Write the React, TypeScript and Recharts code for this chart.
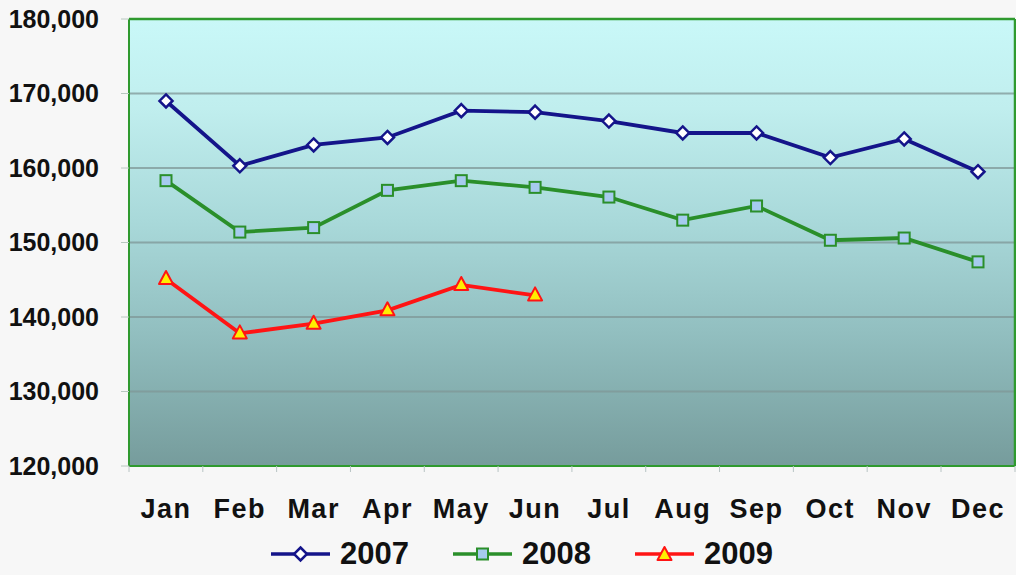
import { LineChart, Line, XAxis, YAxis, CartesianGrid, Legend } from 'recharts';

const months = ['Jan', 'Feb', 'Mar', 'Apr', 'May', 'Jun', 'Jul', 'Aug', 'Sep', 'Oct', 'Nov', 'Dec'];
const sales2007 = [169000, 160300, 163100, 164100, 167700, 167500, 166300, 164700, 164700, 161400, 163900, 159500];
const sales2008 = [158300, 151400, 152000, 157000, 158300, 157400, 156100, 153000, 154900, 150300, 150600, 147400];
const sales2009 = [145100, 137800, 139100, 140900, 144300, 142900];
const yTicks = [120000, 130000, 140000, 150000, 160000, 170000, 180000];

const FONT = '"Liberation Sans", Arial, sans-serif';
const NAVY = '#14148a';
const GREEN = '#2a8f2a';
const RED = '#ff1414';
const BORDER = '#2f9a2f';
const HALF_BAND = 37;

const data = months.map((m, i) => ({
  month: m,
  y2007: sales2007[i],
  y2008: sales2008[i],
  y2009: i < sales2009.length ? sales2009[i] : null,
}));

const Diamond = ({ cx, cy }: any) => {
  if (cx == null || cy == null) return null;
  const r = 6.5;
  return (
    <path
      d={`M${cx},${cy - r}L${cx + r},${cy}L${cx},${cy + r}L${cx - r},${cy}Z`}
      fill="#ffffff"
      stroke={NAVY}
      strokeWidth={2.5}
    />
  );
};

const Square = ({ cx, cy }: any) => {
  if (cx == null || cy == null) return null;
  const s = 11;
  return <rect x={cx - s / 2} y={cy - s / 2} width={s} height={s} fill="#a6cbee" stroke={GREEN} strokeWidth={2} />;
};

const Triangle = ({ cx, cy }: any) => {
  if (cx == null || cy == null) return null;
  return (
    <path
      d={`M${cx},${cy - 8}L${cx + 7},${cy + 5}L${cx - 7},${cy + 5}Z`}
      fill="#ffee00"
      stroke={RED}
      strokeWidth={2}
      strokeLinejoin="round"
    />
  );
};

const MonthTick = ({ x, y, payload, index }: any) => (
  <g>
    <line x1={x - HALF_BAND} y1={y} x2={x - HALF_BAND} y2={y + 6} stroke="#b8c4c4" strokeWidth={1} />
    {index === months.length - 1 && (
      <line x1={x + HALF_BAND} y1={y} x2={x + HALF_BAND} y2={y + 6} stroke="#b8c4c4" strokeWidth={1} />
    )}
    <text
      x={x}
      y={y + 52}
      textAnchor="middle"
      fill="#111"
      fontSize={27}
      fontWeight="bold"
      fontFamily={FONT}
      letterSpacing={1.5}
    >
      {payload.value}
    </text>
  </g>
);

const legendItems = [
  { label: '2007', color: NAVY, marker: 'diamond' },
  { label: '2008', color: GREEN, marker: 'square' },
  { label: '2009', color: RED, marker: 'triangle' },
];

const LegendContent = () => (
  <div style={{ display: 'flex', alignItems: 'center', marginLeft: 271, fontFamily: FONT }}>
    {legendItems.map((item) => (
      <div key={item.label} style={{ display: 'flex', alignItems: 'center', width: 182 }}>
        <svg width={59} height={22} style={{ marginRight: 10 }}>
          <line x1={0} y1={11} x2={59} y2={11} stroke={item.color} strokeWidth={3.5} />
          {item.marker === 'diamond' && <Diamond cx={29.5} cy={11} />}
          {item.marker === 'square' && <Square cx={29.5} cy={11} />}
          {item.marker === 'triangle' && <Triangle cx={29.5} cy={12} />}
        </svg>
        <span style={{ fontSize: 31, fontWeight: 'bold', color: '#111', lineHeight: '36px' }}>{item.label}</span>
      </div>
    ))}
  </div>
);

export default function App() {
  return (
    <div style={{ position: 'absolute', left: 0, top: 0, width: 1016, height: 575, background: '#f7f7f7' }}>
      <LineChart width={1016} height={575} data={data} margin={{ top: 18, right: 0, left: 0, bottom: 0 }}>
        <defs>
          <linearGradient id="plotBg" x1="0" y1="0" x2="0" y2="1">
            <stop offset="0%" stopColor="#c9f8f8" />
            <stop offset="20%" stopColor="#c0eeee" />
            <stop offset="45%" stopColor="#a9d9da" />
            <stop offset="70%" stopColor="#92bfc0" />
            <stop offset="100%" stopColor="#769c9c" />
          </linearGradient>
        </defs>
        <CartesianGrid
          vertical={false}
          fill="url(#plotBg)"
          fillOpacity={1}
          stroke="#7f9797"
          strokeWidth={2}
          strokeOpacity={0.75}
        />
        <XAxis
          dataKey="month"
          height={109}
          padding={{ left: HALF_BAND, right: HALF_BAND }}
          tickLine={false}
          tickSize={0}
          tickMargin={0}
          interval={0}
          axisLine={{ stroke: BORDER, strokeWidth: 2 }}
          tick={<MonthTick />}
        />
        <XAxis
          xAxisId="top"
          orientation="top"
          dataKey="month"
          height={1}
          tick={false}
          tickLine={false}
          padding={{ left: HALF_BAND, right: HALF_BAND }}
          axisLine={{ stroke: BORDER, strokeWidth: 2.5 }}
        />
        <YAxis
          width={129}
          domain={[120000, 180000]}
          ticks={yTicks}
          interval={0}
          tickSize={8}
          tickMargin={22}
          tickLine={{ stroke: '#b8c8c0' }}
          axisLine={{ stroke: BORDER, strokeWidth: 2 }}
          tick={{ fill: '#111', fontSize: 25, fontWeight: 'bold', fontFamily: FONT }}
          tickFormatter={(v: number) => v.toLocaleString('en-US')}
        />
        <YAxis
          yAxisId="right"
          orientation="right"
          width={1}
          domain={[120000, 180000]}
          tick={false}
          tickLine={false}
          axisLine={{ stroke: BORDER, strokeWidth: 2.5 }}
        />
        <Legend
          verticalAlign="middle"
          align="center"
          content={<LegendContent />}
          wrapperStyle={{ top: 536, left: 0, width: 1016, height: 36 }}
        />
        <Line
          dataKey="y2007"
          stroke={NAVY}
          strokeWidth={3.8}
          dot={(p: any) => <Diamond key={`d7-${p.index}`} {...p} />}
          activeDot={false}
          isAnimationActive={false}
        />
        <Line
          dataKey="y2008"
          stroke={GREEN}
          strokeWidth={3.8}
          dot={(p: any) => <Square key={`d8-${p.index}`} {...p} />}
          activeDot={false}
          isAnimationActive={false}
        />
        <Line
          dataKey="y2009"
          stroke={RED}
          strokeWidth={3.8}
          dot={(p: any) => <Triangle key={`d9-${p.index}`} {...p} />}
          activeDot={false}
          isAnimationActive={false}
        />
      </LineChart>
    </div>
  );
}
